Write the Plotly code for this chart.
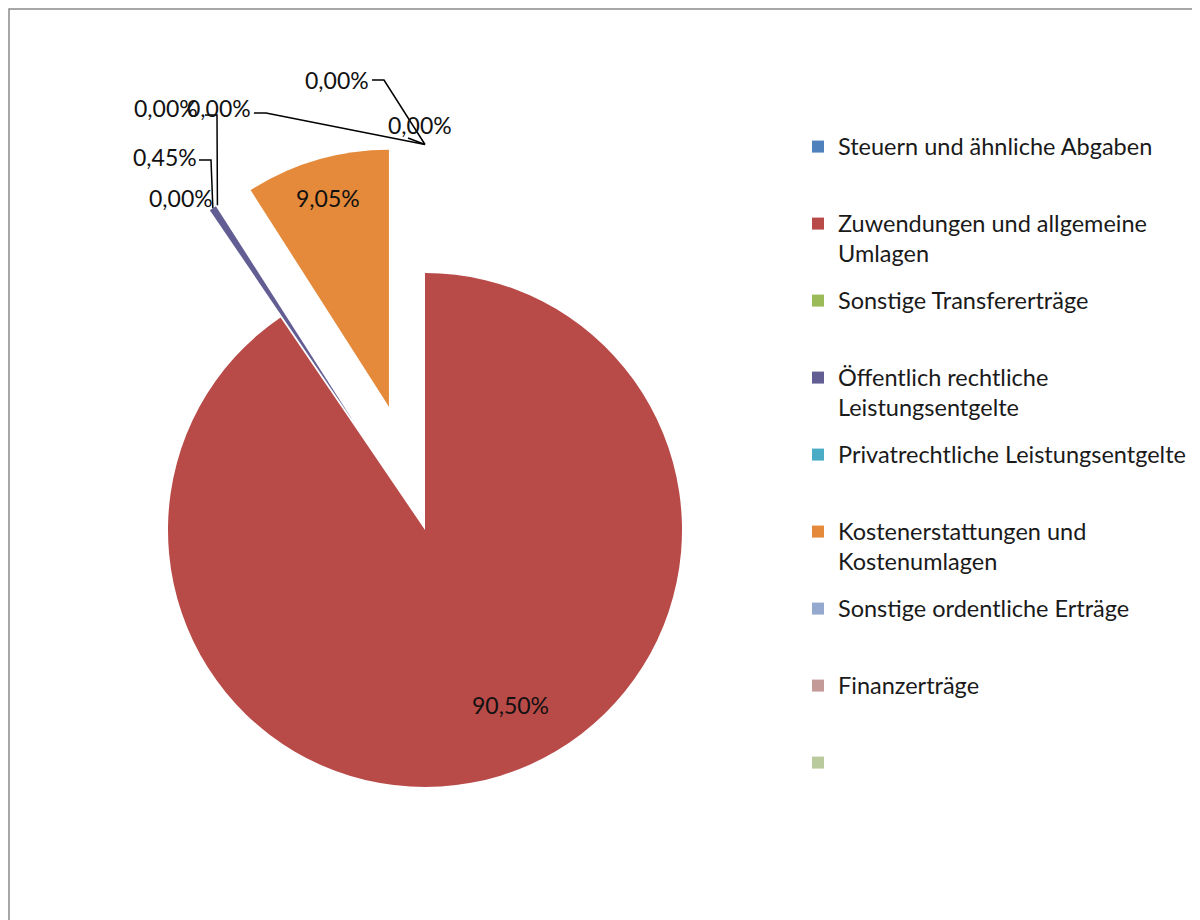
import math
import plotly.graph_objects as go

# ---------------- data ----------------
categories = [
    "Steuern und ähnliche Abgaben",
    "Zuwendungen und allgemeine Umlagen",
    "Sonstige Transfererträge",
    "Öffentlich rechtliche Leistungsentgelte",
    "Privatrechtliche Leistungsentgelte",
    "Kostenerstattungen und Kostenumlagen",
    "Sonstige ordentliche Erträge",
    "Finanzerträge",
    "",
]
shares = [0.00, 90.50, 0.00, 0.45, 0.00, 9.05, 0.00, 0.00, 0.00]

# legend wording with the original line breaks
legend_lines = [
    ["Steuern und ähnliche Abgaben"],
    ["Zuwendungen und allgemeine", "Umlagen"],
    ["Sonstige Transfererträge"],
    ["Öffentlich rechtliche", "Leistungsentgelte"],
    ["Privatrechtliche Leistungsentgelte"],
    ["Kostenerstattungen und", "Kostenumlagen"],
    ["Sonstige ordentliche Erträge"],
    ["Finanzerträge"],
    [" "],
]

# ---------------- styling ----------------
colors = ["#4F81BD", "#B84A48", "#9BBB59", "#625D93", "#4BACC6",
          "#E48A3A", "#95A9CF", "#C49A99", "#B9CA9C"]
pulls = [0, 0, 0, 0.5, 0, 0.5, 0, 0, 0]

FONT = "Lato"
W, H = 1200, 920
OFF = 8                            # page offset of the plot div
CX, CY, R = 425 - OFF, 530 - OFF, 257   # pie centre / radius (figure px)
MAXPULL = max(pulls)
HALF = R * (1 + MAXPULL)

TXT_FS = 23.5                      # legend text size
LBL_FS = 23                        # data label size
ENTRY_H = 77                       # legend entry pitch (px)
SUB = 5                            # sub-lines between two text lines
NLINES = 12
LH = (ENTRY_H - 3) / NLINES
LEG_FS = LH / 1.3                  # base legend font -> line height


def fmt(v):
    return f"{v:.2f}%".replace(".", ",")


def px(x):            # page px -> paper
    return (x - OFF) / W


def py(y):
    return 1 - (y - OFF) / H


def legend_label(lines):
    rows = [""] * NLINES
    rows[1] = lines[0]
    if len(lines) > 1:
        rows[1 + SUB] = lines[1]
    rows = [r if r else " " for r in rows]
    return f"<span style='font-size:{TXT_FS}px'>" + "<br>".join(rows) + "</span>"


fig = go.Figure()
fig.add_trace(go.Pie(
    labels=[legend_label(l) for l in legend_lines],
    values=shares,
    sort=False,
    direction="clockwise",
    rotation=0,
    pull=pulls,
    marker=dict(colors=colors, line=dict(width=0)),
    textinfo="none",
    domain=dict(x=[(CX - HALF) / W, (CX + HALF) / W],
                y=[1 - (CY + HALF) / H, 1 - (CY - HALF) / H]),
    hoverinfo="skip",
))

# ---------------- data labels (page px) with leader lines ----------------
label_layout = {
    0: dict(pos=(420, 125), start=(408, 138), elbow=False),
    1: dict(pos=(510, 705), start=None, elbow=False),
    2: dict(pos=(181, 198), start=None, elbow=False),
    3: dict(pos=(165, 157), start=(199, 160), elbow=True),
    4: dict(pos=(166, 108), start=(205, 115), elbow=True),
    5: dict(pos=(328, 198), start=None, elbow=False),
    6: dict(pos=(219, 108), start=(254, 113), elbow=True),
    7: dict(pos=(337, 80), start=(372, 80), elbow=True),
}

total = sum(shares)
cum = 0
mids = []
for v in shares:
    mids.append(360 * (cum + v / 2) / total)
    cum += v

annotations = []
shapes = []
for i, spec in label_layout.items():
    lx, ly = spec["pos"]
    annotations.append(dict(
        x=px(lx), y=py(ly), xref="paper", yref="paper",
        text=fmt(shares[i]), showarrow=False,
        xanchor="center", yanchor="middle",
        font=dict(family=FONT, size=LBL_FS, color="#111111"),
    ))
    if spec["start"] is None:
        continue
    th = math.radians(mids[i])
    ra = R * (1 + MAXPULL)
    ax = CX + OFF + ra * math.sin(th)
    ay = CY + OFF - ra * math.cos(th)
    sx, sy = spec["start"]
    pts = [(sx, sy)]
    if spec["elbow"]:
        pts.append((sx + 12, sy))
    pts.append((ax, ay))
    path = "M " + " L ".join(f"{px(x):.5f},{py(y):.5f}" for x, y in pts)
    shapes.append(dict(type="path", path=path, xref="paper", yref="paper",
                       line=dict(color="#000000", width=1.5)))

# chart border (left and top visible)
shapes.append(dict(type="rect", xref="paper", yref="paper",
                   x0=1 / W, x1=1.05, y0=-0.05, y1=py(9),
                   line=dict(color="#8a8a8a", width=1.5)))

fig.update_layout(
    width=W, height=H,
    margin=dict(l=0, r=0, t=0, b=0),
    paper_bgcolor="white", plot_bgcolor="white",
    separators=",.",
    font=dict(family=FONT, color="#1a1a1a"),
    showlegend=True,
    legend=dict(
        x=px(798), y=py(137), xanchor="left", yanchor="top",
        font=dict(family=FONT, size=LEG_FS, color="#1a1a1a"),
        valign="top", bgcolor="rgba(0,0,0,0)", traceorder="normal",
    ),
    annotations=annotations,
    shapes=shapes,
)

fig.write_html("out.html")
